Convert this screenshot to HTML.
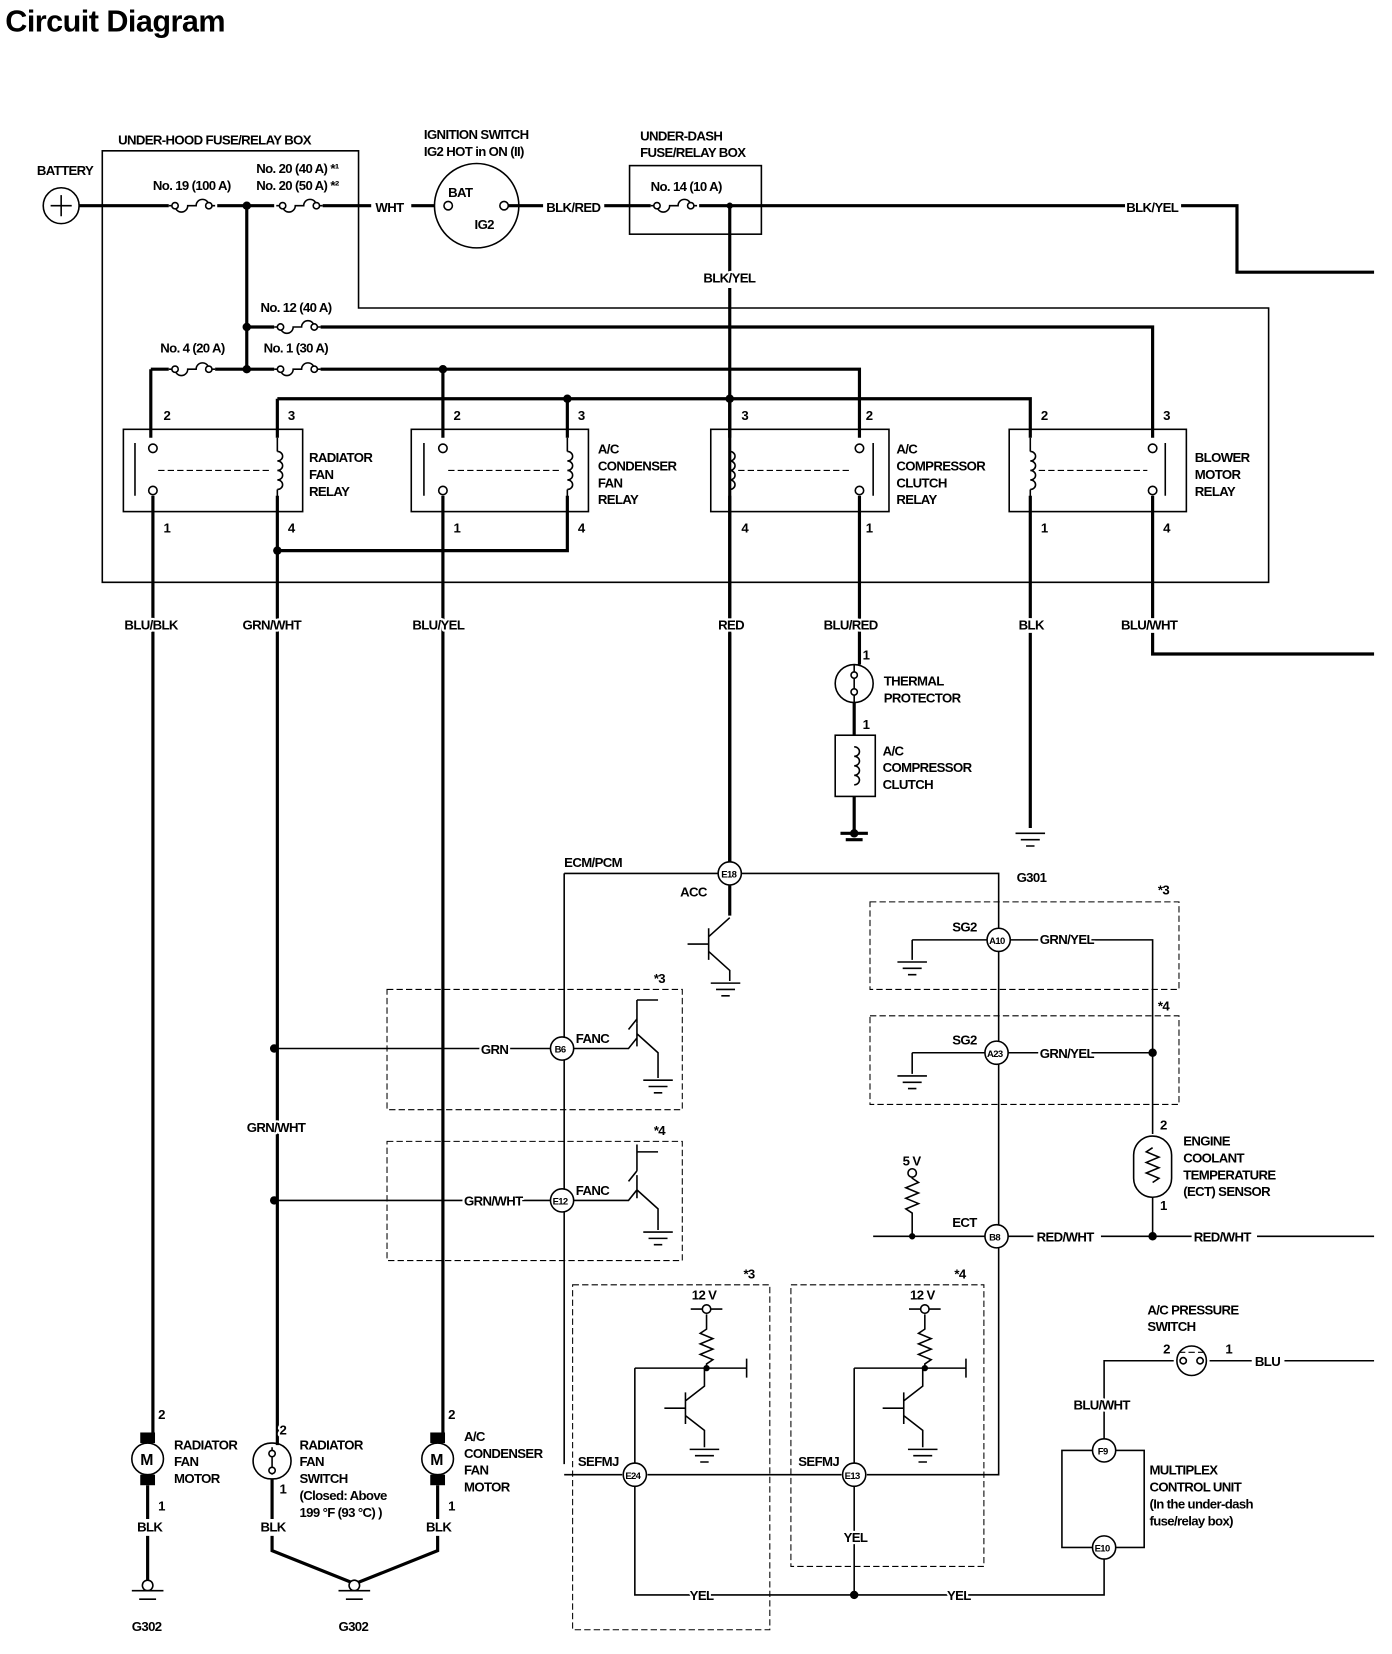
<!DOCTYPE html>
<html><head><meta charset="utf-8"><style>
html,body{margin:0;padding:0;background:#fff;}
svg{display:block}
text{font-family:"Liberation Sans",sans-serif;font-weight:bold;font-size:12.5px;fill:#000;letter-spacing:-0.6px;paint-order:stroke;stroke:#fff;stroke-width:4px;stroke-linejoin:round}
.w{stroke:#000;stroke-width:3;fill:none}
.t{stroke:#000;stroke-width:1.5;fill:none}
.d{stroke:#000;stroke-width:1;fill:none;stroke-dasharray:6,3}
.c{stroke:#000;stroke-width:1.5;fill:#fff}
</style></head><body>
<svg width="1392" height="1654" viewBox="0 0 1320 1568" preserveAspectRatio="none" xmlns="http://www.w3.org/2000/svg">
<defs>
<g id="fuse"><path class="t" d="M0 0 h6 a6 6 0 0 0 12 0 h8 a6 6 0 0 1 12 0 h6"/><circle cx="6" cy="0" r="3" class="c"/><circle cx="38" cy="0" r="3" class="c"/></g>
<g id="gnd"><path class="t" d="M-14 0 h28 M-9 6 h18 M-4 12 h8"/></g>
<g id="coil"><path class="t" d="M0 -18 a5 4.5 0 0 1 0 9 a5 4.5 0 0 1 0 9 a5 4.5 0 0 1 0 9 a5 4.5 0 0 1 0 9"/></g>
</defs>
<text x="5" y="30" style="font-size:29px;letter-spacing:-0.5px">Circuit Diagram</text>

<path class="t" d="M97 143 H340 V292 H1203 V552 H97 Z"/>
<text x="112" y="137">UNDER-HOOD FUSE/RELAY BOX</text>
<rect class="t" x="597" y="157" width="125" height="65"/>
<text x="607" y="133">UNDER-DASH</text><text x="607" y="149">FUSE/RELAY BOX</text>

<circle cx="58" cy="195" r="17" class="t"/><path class="t" d="M48 195h20M58 185v20"/>
<text x="35" y="166">BATTERY</text>
<path class="w" d="M75 195H160M206 195H260M306 195H352M390 195H412"/>
<use href="#fuse" x="160" y="195"/><use href="#fuse" x="262" y="195"/>
<text x="145" y="180">No. 19 (100 A)</text>
<text x="243" y="164">No. 20 (40 A) *¹</text><text x="243" y="180">No. 20 (50 A) *²</text>
<text x="356" y="201">WHT</text>
<circle cx="452" cy="195" r="40" class="t"/>
<circle cx="425" cy="195" r="4" class="c"/><circle cx="478" cy="195" r="4" class="c"/>
<text x="425" y="187">BAT</text><text x="450" y="217">IG2</text>
<text x="402" y="132">IGNITION SWITCH</text><text x="402" y="148">IG2 HOT in ON (II)</text>
<path class="w" d="M482 195H515M573 195H617M663 195H1068M1120 195H1173V258H1303"/>
<text x="518" y="201">BLK/RED</text>
<use href="#fuse" x="617" y="195"/>
<text x="617" y="181">No. 14 (10 A)</text>
<text x="1068" y="201">BLK/YEL</text>
<path class="w" d="M692 195V259M692 273V817"/>
<text x="667" y="268">BLK/YEL</text>
<circle cx="692" cy="195" r="3"/>

<path class="w" d="M234 195V350M234 310H260M304 310H1093V415M143 350H160M204 350H260M304 350H815V415M143 350V415M263 378H977V415M263 378V415M538 378V415M420 350V415M692 378V415"/>
<use href="#fuse" x="260" y="310"/><use href="#fuse" x="160" y="350"/><use href="#fuse" x="260" y="350"/>
<text x="247" y="296">No. 12 (40 A)</text>
<text x="152" y="334">No. 4 (20 A)</text><text x="250" y="334">No. 1 (30 A)</text>
<g fill="#000"><circle cx="234" cy="195" r="4"/><circle cx="234" cy="310" r="4"/><circle cx="234" cy="350" r="4"/><circle cx="420" cy="350" r="4"/><circle cx="538" cy="378" r="4"/><circle cx="692" cy="378" r="4"/><circle cx="263" cy="522" r="4"/></g>

<g>
<rect class="t" x="117" y="407" width="170" height="78"/>
<rect class="t" x="390" y="407" width="168" height="78"/>
<rect class="t" x="674" y="407" width="169" height="78"/>
<rect class="t" x="957" y="407" width="168" height="78"/>
<path class="d" d="M150 446H255M425 446H530M700 446H808M985 446H1088"/>
<path class="t" d="M128 420v50M402 420v50M828 420v50M1105 420v50"/>
<circle cx="145" cy="425" r="4" class="c"/><circle cx="145" cy="465" r="4" class="c"/>
<circle cx="420" cy="425" r="4" class="c"/><circle cx="420" cy="465" r="4" class="c"/>
<circle cx="815" cy="425" r="4" class="c"/><circle cx="815" cy="465" r="4" class="c"/>
<circle cx="1093" cy="425" r="4" class="c"/><circle cx="1093" cy="465" r="4" class="c"/>
<use href="#coil" x="263" y="446"/><use href="#coil" x="538" y="446"/><use href="#coil" x="692" y="446"/><use href="#coil" x="977" y="446"/>
<path class="t" d="M263 415v13M263 464v14M538 415v13M538 464v14M692 415v13M692 464v14M977 415v13M977 464v14"/>
</g>
<text x="155" y="398">2</text><text x="273" y="398">3</text><text x="430" y="398">2</text><text x="548" y="398">3</text>
<text x="703" y="398">3</text><text x="821" y="398">2</text><text x="987" y="398">2</text><text x="1103" y="398">3</text>
<text x="155" y="505">1</text><text x="273" y="505">4</text><text x="430" y="505">1</text><text x="548" y="505">4</text>
<text x="703" y="505">4</text><text x="821" y="505">1</text><text x="987" y="505">1</text><text x="1103" y="505">4</text>
<text x="293" y="438">RADIATOR</text><text x="293" y="454">FAN</text><text x="293" y="470">RELAY</text>
<text x="567" y="430">A/C</text><text x="567" y="446">CONDENSER</text><text x="567" y="462">FAN</text><text x="567" y="478">RELAY</text>
<text x="850" y="430">A/C</text><text x="850" y="446">COMPRESSOR</text><text x="850" y="462">CLUTCH</text><text x="850" y="478">RELAY</text>
<text x="1133" y="438">BLOWER</text><text x="1133" y="454">MOTOR</text><text x="1133" y="470">RELAY</text>

<path class="w" d="M145 470V1360M263 470V1370M263 522H538V470M420 470V1360M692 470V586M692 600V817M815 470V630M977 470V586M977 600V785M1093 470V586M1093 600V620H1303"/>
<text x="118" y="597">BLU/BLK</text><text x="230" y="597">GRN/WHT</text><text x="391" y="597">BLU/YEL</text>
<text x="681" y="597">RED</text><text x="781" y="597">BLU/RED</text><text x="966" y="597">BLK</text><text x="1063" y="597">BLU/WHT</text>

<circle cx="810" cy="648" r="18" class="t"/><path class="t" d="M810 630V666"/>
<circle cx="810" cy="640" r="3" class="c"/><circle cx="810" cy="656" r="3" class="c"/>
<text x="818" y="625">1</text><text x="818" y="691">1</text>
<text x="838" y="650">THERMAL</text><text x="838" y="666">PROTECTOR</text>
<path class="w" d="M810 666V697M810 755V790"/>
<rect class="t" x="792" y="697" width="38" height="58"/><use href="#coil" x="810" y="726"/>
<text x="837" y="716">A/C</text><text x="837" y="732">COMPRESSOR</text><text x="837" y="748">CLUTCH</text>
<path d="M797 790h26M802 796h16" class="w"/><circle cx="810" cy="790" r="4"/>
<use href="#gnd" x="977" y="790"/><text x="964" y="836">G301</text>

<text x="535" y="822">ECM/PCM</text>
<path class="t" d="M535 828H681M703 828H947V880M535 828V1388M947 902V987M947 1009V1161M947 1183V1398H822M798 1398H614M590 1398H535"/>
<circle cx="692" cy="828" r="11" class="c"/><text x="684" y="832" style="font-size:9px;stroke-width:0">E18</text>
<text x="645" y="850">ACC</text>
<path class="w" d="M692 839V868"/>
<path class="t" d="M672 880v30M652 895h20M672 888l20-18M672 902l20 18V930"/>
<use href="#gnd" x="688" y="932"/>

<rect class="d" x="367" y="938" width="280" height="114"/><text x="620" y="932">*3</text>
<rect class="d" x="367" y="1082" width="280" height="113"/><text x="620" y="1076">*4</text>
<rect class="d" x="825" y="855" width="293" height="83"/><text x="1098" y="848">*3</text>
<rect class="d" x="825" y="963" width="293" height="84"/><text x="1098" y="958">*4</text>
<rect class="d" x="543" y="1218" width="187" height="327"/><text x="705" y="1212">*3</text>
<rect class="d" x="750" y="1218" width="183" height="267"/><text x="905" y="1212">*4</text>

<path class="t" d="M260 994H522M260 1138H522"/>
<g fill="#000"><circle cx="260" cy="994" r="4"/><circle cx="260" cy="1138" r="4"/></g>
<text x="456" y="999">GRN</text><text x="440" y="1143">GRN/WHT</text>
<text x="234" y="1073">GRN/WHT</text>
<circle cx="533" cy="994" r="11" class="c"/><text x="526" y="998" style="font-size:9px;stroke-width:0">B6</text>
<circle cx="533" cy="1138" r="11" class="c"/><text x="524" y="1142" style="font-size:9px;stroke-width:0">E12</text>
<text x="546" y="989">FANC</text><text x="546" y="1133">FANC</text>
<path class="t" d="M544 994H596l8-10M604 970v22M604 966l-8 10M604 980l20 18V1022M604 1128l20 18V1166M544 1138H596l8-10M604 1114v22M604 1110l-8 10M604 1085v25"/>
<path class="t" d="M604 948v22M604 948h20M604 1092h20"/>
<use href="#gnd" x="624" y="1024"/><use href="#gnd" x="624" y="1168"/>

<circle cx="947" cy="891" r="11" class="c"/><text x="938" y="895" style="font-size:9px;stroke-width:0">A10</text>
<circle cx="945" cy="998" r="11" class="c"/><text x="936" y="1002" style="font-size:9px;stroke-width:0">A23</text>
<path class="t" d="M865 891H936M958 891H1093V1075M865 891V910M865 998H934M956 998H1093M865 998V1018"/>
<use href="#gnd" x="865" y="912"/><use href="#gnd" x="865" y="1020"/>
<text x="903" y="883">SG2</text><text x="903" y="990">SG2</text>
<text x="986" y="895">GRN/YEL</text><text x="986" y="1003">GRN/YEL</text>
<circle cx="1093" cy="998" r="4"/>
<rect class="t" x="1075" y="1077" width="36" height="58" rx="18"/>
<path class="t" d="M1093 1088l-6 4 12 5-12 5 12 5-12 5 12 5-6 4"/>
<text x="1100" y="1071">2</text><text x="1100" y="1147">1</text>
<text x="1122" y="1086">ENGINE</text><text x="1122" y="1102">COOLANT</text><text x="1122" y="1118">TEMPERATURE</text><text x="1122" y="1134">(ECT) SENSOR</text>
<path class="t" d="M1093 1135V1172"/>
<circle cx="945" cy="1172" r="11" class="c"/><text x="938" y="1176" style="font-size:9px;stroke-width:0">B8</text>
<path class="t" d="M828 1172H934M956 1172H980M1044 1172H1130M1192 1172H1303M865 1172V1150l-6-4 12-5-12-5 12-5-12-5 12-5-6-4V1110"/>
<circle cx="1093" cy="1172" r="4"/><circle cx="865" cy="1172" r="3"/>
<circle cx="865" cy="1112" r="4" class="c"/><text x="856" y="1105">5 V</text>
<text x="903" y="1163">ECT</text><text x="983" y="1177">RED/WHT</text><text x="1132" y="1177">RED/WHT</text>

<g class="t">
<path d="M670 1246V1260l-6 4 12 5-12 5 12 5-12 5 12 5-6 4V1297M602 1297H708M708 1288v18M602 1297V1388M650 1320v30M630 1335h20M650 1328l18-14V1297M650 1342l18 14V1372"/>
<path d="M877 1246V1260l-6 4 12 5-12 5 12 5-12 5 12 5-6 4V1297M810 1297H916M916 1288v18M810 1297V1388M857 1320v30M837 1335h20M857 1328l18-14V1297M857 1342l18 14V1372"/>
<path d="M655 1241h30M862 1241h30"/>
</g>
<circle cx="670" cy="1241" r="4" class="c"/><circle cx="877" cy="1241" r="4" class="c"/>
<text x="656" y="1232">12 V</text><text x="863" y="1232">12 V</text>
<circle cx="670" cy="1297" r="3"/><circle cx="877" cy="1297" r="3"/>
<use href="#gnd" x="668" y="1374"/><use href="#gnd" x="875" y="1374"/>
<circle cx="602" cy="1398" r="11" class="c"/><text x="593" y="1402" style="font-size:9px;stroke-width:0">E24</text>
<circle cx="810" cy="1398" r="11" class="c"/><text x="801" y="1402" style="font-size:9px;stroke-width:0">E13</text>
<text x="548" y="1390">SEFMJ</text><text x="757" y="1390">SEFMJ</text>
<path class="t" d="M602 1409V1512H1047V1478M810 1409V1512"/>
<circle cx="810" cy="1512" r="4"/>
<text x="654" y="1517">YEL</text><text x="898" y="1517">YEL</text><text x="800" y="1462">YEL</text>

<rect class="t" x="1007" y="1375" width="78" height="92"/>
<circle cx="1047" cy="1375" r="11" class="c"/><text x="1041" y="1379" style="font-size:9px;stroke-width:0">F9</text>
<circle cx="1047" cy="1467" r="11" class="c"/><text x="1038" y="1471" style="font-size:9px;stroke-width:0">E10</text>
<text x="1090" y="1398">MULTIPLEX</text><text x="1090" y="1414">CONTROL UNIT</text><text x="1090" y="1430">(In the under-dash</text><text x="1090" y="1446">fuse/relay box)</text>
<path class="t" d="M1047 1364V1290H1113M1147 1290H1187M1218 1290H1303"/>
<circle cx="1130" cy="1290" r="14" class="t"/><path class="d" d="M1118 1282h24"/>
<circle cx="1122" cy="1290" r="3" class="c"/><circle cx="1138" cy="1290" r="3" class="c"/>
<text x="1088" y="1246">A/C PRESSURE</text><text x="1088" y="1262">SWITCH</text>
<text x="1103" y="1283">2</text><text x="1162" y="1283">1</text><text x="1190" y="1295">BLU</text>
<text x="1018" y="1336">BLU/WHT</text>

<circle cx="140" cy="1383" r="15" class="t"/><text x="133" y="1389" style="font-size:15px;stroke-width:0">M</text>
<rect x="133" y="1358" width="14" height="10"/><rect x="133" y="1398" width="14" height="10"/>
<circle cx="415" cy="1383" r="15" class="t"/><text x="408" y="1389" style="font-size:15px;stroke-width:0">M</text>
<rect x="408" y="1358" width="14" height="10"/><rect x="408" y="1398" width="14" height="10"/>
<text x="150" y="1345">2</text><text x="150" y="1432">1</text><text x="425" y="1345">2</text><text x="425" y="1432">1</text>
<text x="165" y="1374">RADIATOR</text><text x="165" y="1390">FAN</text><text x="165" y="1406">MOTOR</text>
<text x="440" y="1366">A/C</text><text x="440" y="1382">CONDENSER</text><text x="440" y="1398">FAN</text><text x="440" y="1414">MOTOR</text>
<rect class="t" x="240" y="1368" width="36" height="34" rx="17"/>
<path class="t" d="M258 1372v26"/><circle cx="258" cy="1378" r="3" class="c"/><circle cx="258" cy="1394" r="3" class="c"/>
<text x="265" y="1360">2</text><text x="265" y="1416">1</text>
<text x="284" y="1374">RADIATOR</text><text x="284" y="1390">FAN</text><text x="284" y="1406">SWITCH</text><text x="284" y="1422">(Closed: Above</text><text x="284" y="1438">199 °F (93 °C) )</text>
<path class="w" d="M140 1408V1440M140 1456V1500M258 1402V1440M415 1408V1440M258 1456V1470L333 1500M415 1456V1470L340 1500"/>
<text x="130" y="1452">BLK</text><text x="247" y="1452">BLK</text><text x="404" y="1452">BLK</text>
<circle cx="140" cy="1503" r="5" class="c"/><circle cx="336" cy="1503" r="5" class="c"/>
<path class="t" d="M125 1508h30M132 1516h16M321 1508h30M328 1516h16"/>
<text x="125" y="1546">G302</text><text x="321" y="1546">G302</text>
</svg>
</body></html>
